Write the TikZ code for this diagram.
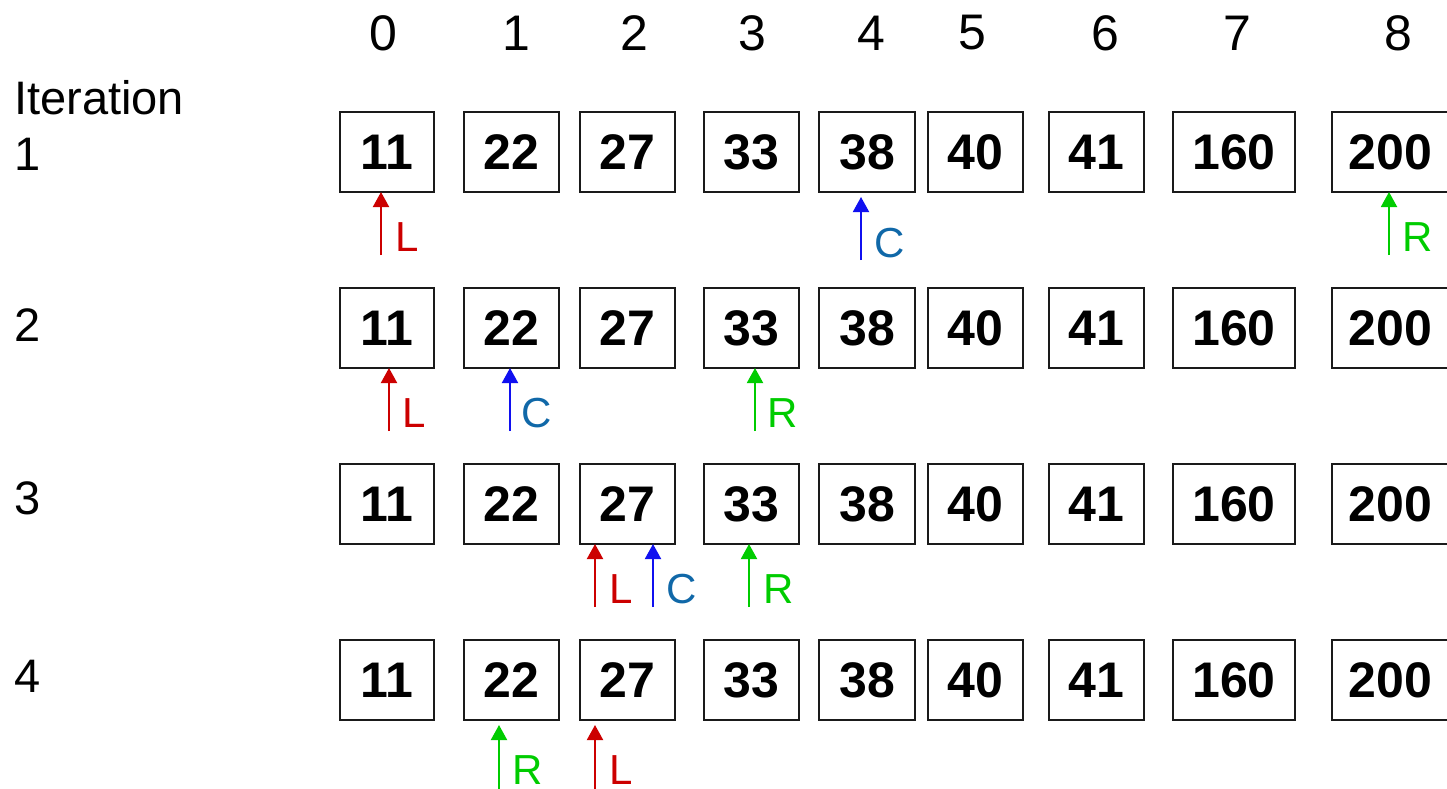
\documentclass[tikz,border=0pt]{standalone}
\usepackage{fontspec}
\setmainfont{Liberation Sans}
\usetikzlibrary{arrows.meta}
\definecolor{lred}{HTML}{CC0000}
\definecolor{cblue}{HTML}{1010F0}
\definecolor{ctext}{HTML}{1068A8}
\definecolor{rgreen}{HTML}{00CC00}
\definecolor{boxline}{HTML}{1A1A1A}
\begin{document}
\begin{tikzpicture}[x=1pt,y=-1pt,
  cell/.style={draw=boxline, line width=2pt, rectangle, inner sep=0pt, outer sep=0pt,
    minimum height=80pt, font=\fontsize{50}{60}\selectfont\bfseries},
  hdr/.style={inner sep=0pt, font=\fontsize{50}{60}\selectfont},
  rowlab/.style={inner sep=0pt, anchor=west, font=\fontsize{47}{56}\selectfont},
  ptr/.style={line width=2pt, -{Triangle[length=15pt,width=16pt]}},
  plab/.style={inner sep=0pt, font=\fontsize{42}{50}\selectfont},
]
\useasboundingbox (0,0) rectangle (1447,788);
% column indices
\foreach \c/\x in {0/383,1/516,2/634,3/752,4/871,5/972,6/1105,7/1237,8/1398}
  \node[hdr] (h\c) at (\x,33) {\c};
% row labels
\node[rowlab] (it) at (14,98) {Iteration};
\node[rowlab] (r1) at (14,154) {1};
\node[rowlab] (r2) at (14,325) {2};
\node[rowlab] (r3) at (14,498) {3};
\node[rowlab] (r4) at (14,676) {4};
% boxes
\foreach \y/\rw in {112/1,288/2,464/3,640/4}{
  \foreach \l/\r/\v/\c in {340/434/11/0,464/559/22/1,580/675/27/2,704/799/33/3,819/915/38/4,928/1023/40/5,1049/1144/41/6,1173/1295/160/7,1332/1449/200/8}{
    \node[cell, minimum width={\r pt-\l pt}] (b\rw\c) at ({(\l+\r)/2},{\y+40}) {\v};
  }
}
% iteration 1
\coordinate (p1L) at (381,255);
\coordinate (p1C) at (861,260);
\coordinate (p1R) at (1389,255);
\draw[ptr, lred] (p1L) -- (p1L |- b10.south);
\draw[ptr, cblue, shorten >=5pt] (p1C) -- (p1C |- b14.south);
\draw[ptr, rgreen] (p1R) -- (p1R |- b18.south);
\node[plab, text=lred] (t1L) at (407,237) {L};
\node[plab, text=ctext] (t1C) at (890,243) {C};
\node[plab, text=rgreen] (t1R) at (1418,237) {R};
% iteration 2
\coordinate (p2L) at (389,431);
\coordinate (p2C) at (510,431);
\coordinate (p2R) at (755,431);
\draw[ptr, lred] (p2L) -- (p2L |- b20.south);
\draw[ptr, cblue] (p2C) -- (p2C |- b21.south);
\draw[ptr, rgreen] (p2R) -- (p2R |- b23.south);
\node[plab, text=lred] (t2L) at (414,413) {L};
\node[plab, text=ctext] (t2C) at (537,413) {C};
\node[plab, text=rgreen] (t2R) at (783,413) {R};
% iteration 3
\coordinate (p3L) at (595,607);
\coordinate (p3C) at (653,607);
\coordinate (p3R) at (749,607);
\draw[ptr, lred] (p3L) -- (p3L |- b32.south);
\draw[ptr, cblue] (p3C) -- (p3C |- b32.south);
\draw[ptr, rgreen] (p3R) -- (p3R |- b33.south);
\node[plab, text=lred] (t3L) at (621,589) {L};
\node[plab, text=ctext] (t3C) at (682,589) {C};
\node[plab, text=rgreen] (t3R) at (779,589) {R};
% iteration 4
\coordinate (p4R) at (499,790);
\coordinate (p4L) at (595,790);
\draw[ptr, rgreen, shorten >=5pt] (p4R) -- (p4R |- b41.south);
\draw[ptr, lred, shorten >=5pt] (p4L) -- (p4L |- b42.south);
\node[plab, text=rgreen] (t4R) at (528,770) {R};
\node[plab, text=lred] (t4L) at (621,770) {L};
\end{tikzpicture}
\end{document}
